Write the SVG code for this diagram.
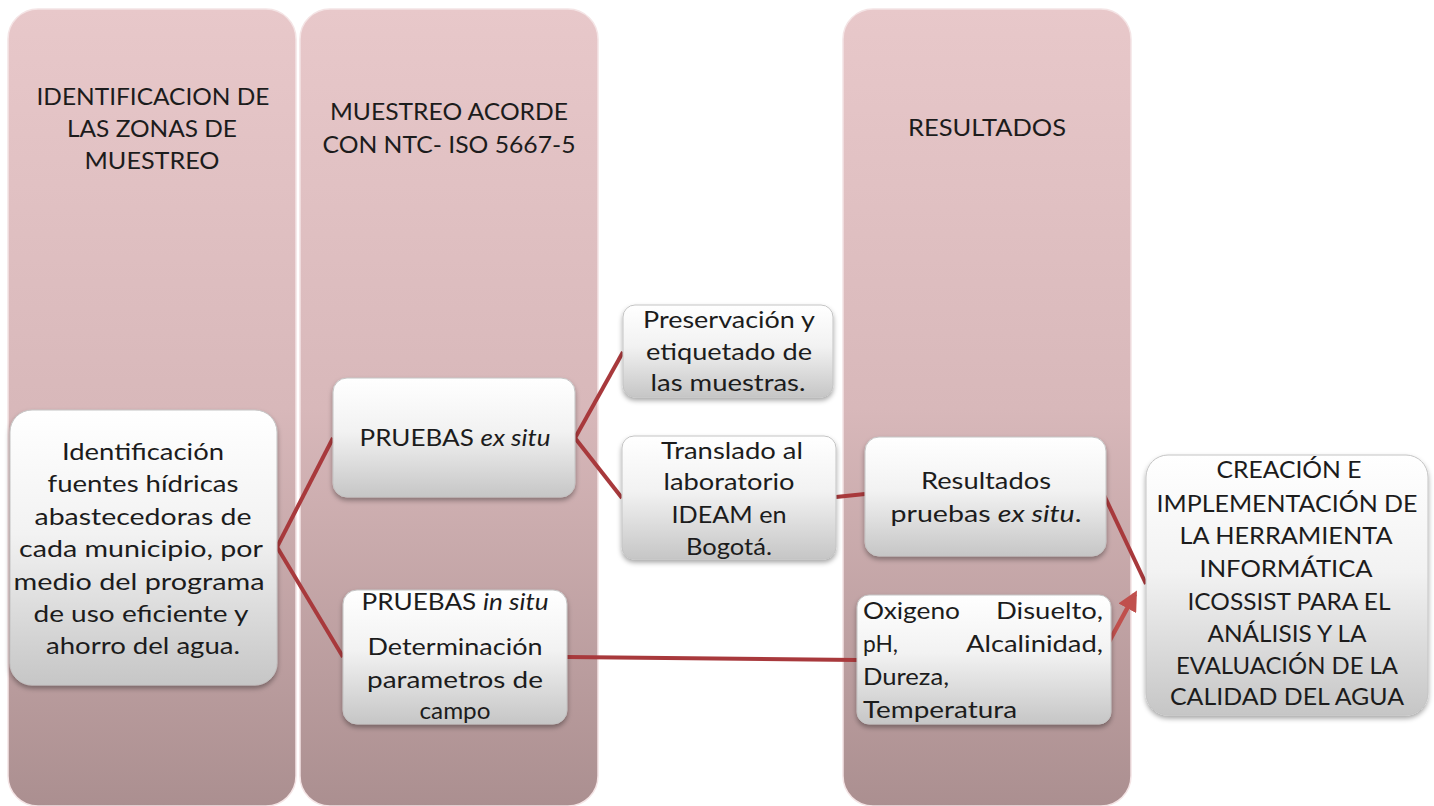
<svg xmlns="http://www.w3.org/2000/svg" width="1434" height="806" viewBox="0 0 1434 806">
<defs>
<linearGradient id="colg" x1="0" y1="0" x2="0" y2="1">
<stop offset="0" stop-color="#e8c8ca"/>
<stop offset="0.5" stop-color="#d8b8ba"/>
<stop offset="1" stop-color="#ab8f90"/>
</linearGradient>
<linearGradient id="boxg" x1="0" y1="0" x2="0" y2="1">
<stop offset="0" stop-color="#ffffff"/>
<stop offset="0.45" stop-color="#f2f2f2"/>
<stop offset="1" stop-color="#c6c6c6"/>
</linearGradient>
<filter id="sh" x="-10%" y="-10%" width="120%" height="125%">
<feDropShadow dx="0" dy="3" stdDeviation="2.5" flood-color="#000" flood-opacity="0.35"/>
</filter>
<marker id="arr" viewBox="0 0 10 10" refX="8" refY="5" markerWidth="4.5" markerHeight="4.5" orient="auto" markerUnits="strokeWidth">
<path d="M0,0 L10,5 L0,10 z" fill="#c0504d"/>
</marker>
<style>
.col{fill:url(#colg);stroke:#f4e4e5;stroke-width:1.5}
.box{fill:url(#boxg);stroke:#c4c4c4;stroke-width:1;filter:url(#sh)}
text{font-family:Lato,"Liberation Sans",sans-serif;font-size:24px;fill:#1c1c1c}
.t,.h{text-anchor:middle}
.c{fill:none;stroke:#a8393c;stroke-width:4}
.a{fill:none;stroke:#c0504d;stroke-width:4.5}
</style>
</defs>
<rect width="1434" height="806" fill="#ffffff"/>
<g id="col1"><rect class="col" x="8" y="9" width="288" height="797" rx="30"/>
<text class="h" x="153" y="105" textLength="233" lengthAdjust="spacingAndGlyphs">IDENTIFICACION DE</text>
<text class="h" x="152" y="137" textLength="170" lengthAdjust="spacingAndGlyphs">LAS ZONAS DE</text>
<text class="h" x="152" y="169" textLength="135" lengthAdjust="spacingAndGlyphs">MUESTREO</text></g>
<g id="col2"><rect class="col" x="300" y="9" width="298" height="797" rx="30"/>
<text class="h" x="449" y="120" textLength="238" lengthAdjust="spacingAndGlyphs">MUESTREO ACORDE</text>
<text class="h" x="449" y="153" textLength="253" lengthAdjust="spacingAndGlyphs">CON NTC- ISO 5667-5</text></g>
<g id="col3"><rect class="col" x="843" y="9" width="288" height="797" rx="30"/>
<text class="h" x="987" y="136" textLength="158" lengthAdjust="spacingAndGlyphs">RESULTADOS</text></g>
<g id="connectors">
<path class="c" d="M277,547 L333,438"/>
<path class="c" d="M277,547 L343,657"/>
<path class="c" d="M575,438 L623,352"/>
<path class="c" d="M575,438 L622,498"/>
<path class="c" d="M836,497 L865,494"/>
<path class="c" d="M567,657 L857,660"/>
<path class="c" d="M1104,495 L1146,584"/>
<path class="a" d="M1104,651 L1135,594" marker-end="url(#arr)"/>
</g>
<g id="n1"><rect class="box" x="10" y="410" width="267" height="275" rx="22"/>
<text class="t" x="143" y="460" textLength="162" lengthAdjust="spacingAndGlyphs">Identificación</text>
<text class="t" x="143" y="492" textLength="191" lengthAdjust="spacingAndGlyphs">fuentes hídricas</text>
<text class="t" x="143" y="525" textLength="217" lengthAdjust="spacingAndGlyphs">abastecedoras  de</text>
<text class="t" x="141" y="557" textLength="244" lengthAdjust="spacingAndGlyphs">cada municipio, por</text>
<text class="t" x="139" y="590" textLength="251" lengthAdjust="spacingAndGlyphs">medio del programa</text>
<text class="t" x="141" y="622" textLength="215" lengthAdjust="spacingAndGlyphs">de uso eficiente y</text>
<text class="t" x="143" y="654" textLength="194" lengthAdjust="spacingAndGlyphs">ahorro del agua.</text></g>
<g id="n2"><rect class="box" x="333" y="378" width="242" height="119" rx="14"/>
<text class="t" x="455" y="446" textLength="191" lengthAdjust="spacingAndGlyphs">PRUEBAS <tspan font-style="italic">ex situ</tspan></text></g>
<g id="n3"><rect class="box" x="343" y="590" width="224" height="134" rx="14"/>
<text class="t" x="455" y="610" textLength="187" lengthAdjust="spacingAndGlyphs">PRUEBAS <tspan font-style="italic">in situ</tspan></text>
<text class="t" x="455" y="655" textLength="175" lengthAdjust="spacingAndGlyphs">Determinación</text>
<text class="t" x="455" y="688" textLength="176" lengthAdjust="spacingAndGlyphs">parametros de</text>
<text class="t" x="455" y="719" textLength="71" lengthAdjust="spacingAndGlyphs">campo</text></g>
<g id="n4"><rect class="box" x="623" y="305" width="210" height="92" rx="12"/>
<text class="t" x="729" y="328" textLength="172" lengthAdjust="spacingAndGlyphs">Preservación y</text>
<text class="t" x="729" y="360" textLength="166" lengthAdjust="spacingAndGlyphs">etiquetado de</text>
<text class="t" x="728" y="391" textLength="155" lengthAdjust="spacingAndGlyphs">las muestras.</text></g>
<g id="n5"><rect class="box" x="622" y="436" width="214" height="123" rx="12"/>
<text class="t" x="732" y="459" textLength="142" lengthAdjust="spacingAndGlyphs">Translado al</text>
<text class="t" x="729" y="490" textLength="131" lengthAdjust="spacingAndGlyphs">laboratorio</text>
<text class="t" x="729" y="523" textLength="115" lengthAdjust="spacingAndGlyphs">IDEAM en</text>
<text class="t" x="729" y="555" textLength="86" lengthAdjust="spacingAndGlyphs">Bogotá.</text></g>
<g id="n6"><rect class="box" x="865" y="437" width="241" height="119" rx="14"/>
<text class="t" x="986" y="489" textLength="130" lengthAdjust="spacingAndGlyphs">Resultados</text>
<text class="t" x="986" y="522" textLength="191" lengthAdjust="spacingAndGlyphs">pruebas  <tspan font-style="italic">ex situ</tspan>.</text></g>
<g id="n7"><rect class="box" x="857" y="595" width="254" height="129" rx="12"/>
<text x="863" y="619" textLength="97" lengthAdjust="spacingAndGlyphs">Oxigeno</text>
<text x="996" y="619" textLength="107" lengthAdjust="spacingAndGlyphs">Disuelto,</text>
<text x="863" y="652" textLength="35" lengthAdjust="spacingAndGlyphs">pH,</text>
<text x="966" y="652" textLength="137" lengthAdjust="spacingAndGlyphs">Alcalinidad,</text>
<text x="863" y="685" textLength="86" lengthAdjust="spacingAndGlyphs">Dureza,</text>
<text x="863" y="718" textLength="154" lengthAdjust="spacingAndGlyphs">Temperatura</text></g>
<g id="n8"><rect class="box" x="1146" y="455" width="282" height="260" rx="22"/>
<text class="t" x="1289" y="478" textLength="145" lengthAdjust="spacingAndGlyphs">CREACIÓN E</text>
<text class="t" x="1287" y="512" textLength="261" lengthAdjust="spacingAndGlyphs">IMPLEMENTACIÓN DE</text>
<text class="t" x="1286" y="544" textLength="213" lengthAdjust="spacingAndGlyphs">LA HERRAMIENTA</text>
<text class="t" x="1286" y="577" textLength="173" lengthAdjust="spacingAndGlyphs">INFORMÁTICA</text>
<text class="t" x="1289" y="610" textLength="203" lengthAdjust="spacingAndGlyphs">ICOSSIST PARA EL</text>
<text class="t" x="1287" y="642" textLength="159" lengthAdjust="spacingAndGlyphs">ANÁLISIS Y LA</text>
<text class="t" x="1287" y="674" textLength="222" lengthAdjust="spacingAndGlyphs">EVALUACIÓN DE LA</text>
<text class="t" x="1287" y="705" textLength="234" lengthAdjust="spacingAndGlyphs">CALIDAD DEL AGUA</text></g>
</svg>
